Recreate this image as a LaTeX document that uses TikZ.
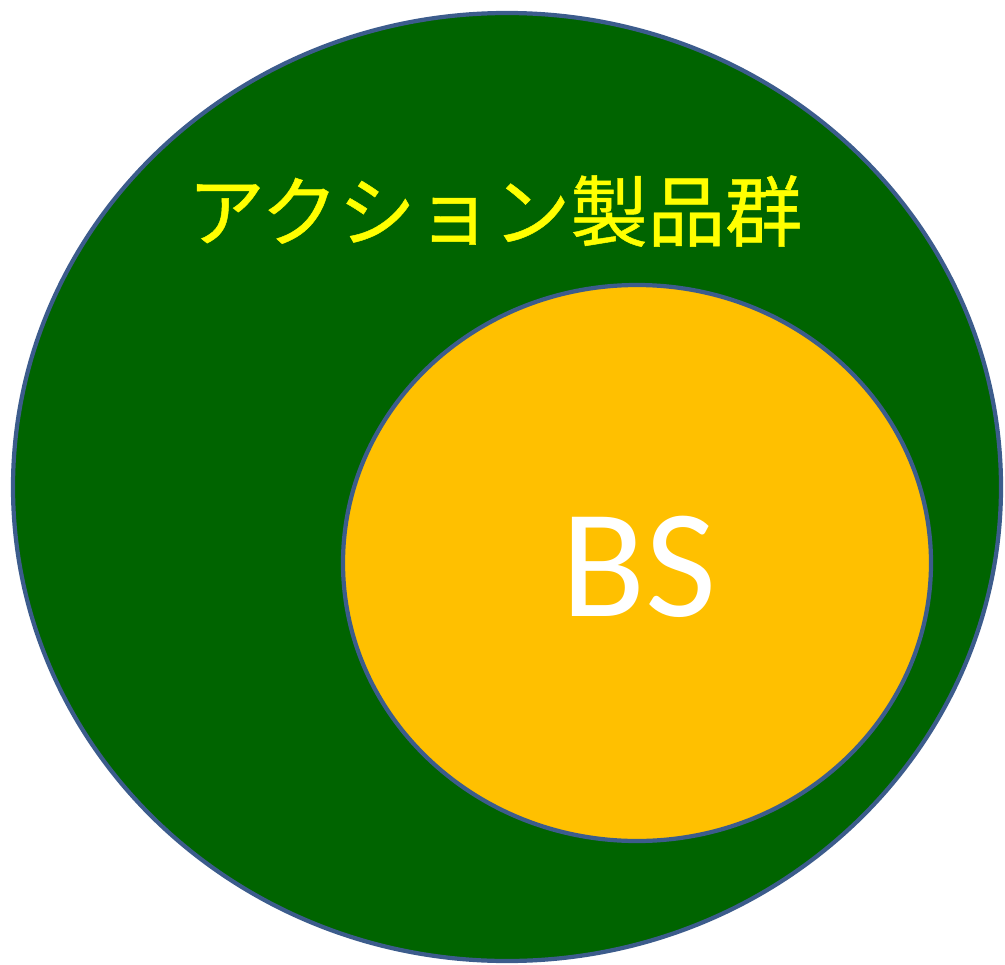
\documentclass[tikz,border=0pt]{standalone}
\usepackage{fontspec}
\newfontfamily\cjk[FakeBold=0.6]{Noto Sans CJK JP}
\setmainfont{Carlito}
\usetikzlibrary{positioning}
\definecolor{setgreen}{RGB}{0, 100, 0}
\definecolor{setgold}{RGB}{255, 192, 0}
\definecolor{rimblue}{RGB}{60, 92, 140}
\definecolor{labyellow}{RGB}{255, 255, 0}

\begin{document}
\begin{tikzpicture}[x=0.025cm, y=-0.025cm]
  \useasboundingbox (0, 0) rectangle (1005, 965);

  % outer set
  \draw[line width=3pt, rimblue, fill=setgreen] (507, 487) ellipse [x radius=494, y radius=474];
  \node[font=\cjk\fontsize{55}{62}\selectfont, labyellow, inner sep=0pt] (outerlab) at (495, 211) {アクション製品群};

  % inner set
  \draw[line width=3pt, rimblue, fill=setgold] (637, 563) ellipse [x radius=294, y radius=278];
  \node[font=\fontsize{110}{120}\selectfont, white, inner sep=0pt] (innerlab) at (639, 567) {BS};
\end{tikzpicture}
\end{document}
